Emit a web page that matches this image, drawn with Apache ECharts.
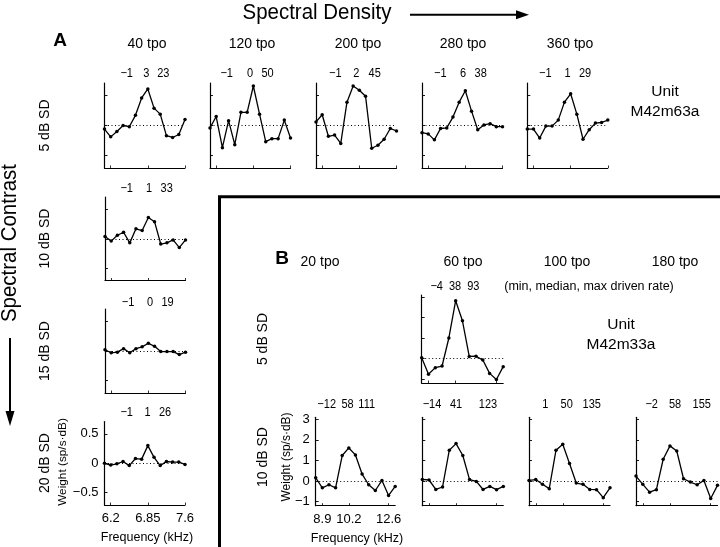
<!DOCTYPE html>
<html><head><meta charset="utf-8">
<script src="https://cdn.jsdelivr.net/npm/echarts@6/dist/echarts.min.js"></script>
<style>html,body{margin:0;padding:0;background:#fff}#c{width:720px;height:547px}</style>
</head><body><div id="c"></div>
<script>
// ---------- DATA ----------
// Frequency categories (kHz), panel A (1/40 oct steps) and panel B (1/20 oct steps)
const freqA = [6.067, 6.173, 6.281, 6.391, 6.503, 6.616, 6.732, 6.85, 6.970, 7.092, 7.216, 7.342, 7.470, 7.601];
const freqB = [8.577, 8.880, 9.193, 9.517, 9.852, 10.2, 10.560, 10.932, 11.318, 11.717, 12.130, 12.557, 13.001];
const xTickIdxA = [1, 7, 13];
const xTickTextA = ['6.2', '6.85', '7.6'];
const xTickIdxB = [1, 5, 11];
const xTickTextB = ['8.9', '10.2', '12.6'];
const yTickValA = [-0.5, 0, 0.5];
const yTickTextA = ['−0.5', '0', '0.5'];
const yTickValB = [-1, 0, 1, 2, 3];
const yTickTextB = ['−1', '0', '1', '2', '3'];

// Panel A weights (sp/s·dB), unit M42m63a
const a5_40  = [-0.06, -0.19, -0.10, 0.00, -0.02, 0.17, 0.46, 0.61, 0.29, 0.19, -0.17, -0.20, -0.15, 0.10];
const a5_120 = [-0.04, 0.15, -0.37, 0.08, -0.32, 0.22, 0.22, 0.66, 0.19, -0.27, -0.22, -0.22, 0.09, -0.21];
const a5_200 = [0.06, 0.18, -0.18, -0.16, -0.30, 0.39, 0.66, 0.59, 0.49, -0.38, -0.33, -0.23, -0.05, -0.09];
const a5_280 = [-0.12, -0.14, -0.24, -0.05, -0.04, 0.14, 0.39, 0.58, 0.24, -0.07, 0.01, 0.03, -0.02, -0.02];
const a5_360 = [-0.06, -0.06, -0.21, -0.01, -0.01, 0.09, 0.39, 0.53, 0.19, -0.23, -0.07, 0.04, 0.05, 0.09];
const a10_40 = [0.04, -0.04, 0.06, 0.11, -0.07, 0.17, 0.14, 0.36, 0.29, -0.09, -0.07, -0.02, -0.15, -0.02];
const a15_40 = [0.02, -0.03, -0.02, 0.04, -0.03, 0.04, 0.07, 0.13, 0.08, -0.01, -0.01, -0.01, -0.06, -0.02];
const a20_40 = [0.00, -0.03, -0.01, 0.03, -0.04, 0.08, 0.07, 0.30, 0.10, -0.04, 0.03, 0.02, 0.02, -0.02];

// Panel B weights, unit M42m33a
const b5_60   = [0.03, -0.77, -0.45, -0.37, 1.00, 2.82, 1.84, 0.10, 0.11, -0.08, -0.73, -1.03, -0.40];
const b10_20  = [0.16, -0.33, -0.18, -0.33, 1.24, 1.61, 1.27, 0.34, -0.18, -0.46, 0.03, -0.70, -0.26];
const b10_60  = [0.08, 0.05, -0.41, -0.29, 1.50, 1.82, 1.24, 0.07, -0.02, -0.41, -0.26, -0.42, -0.26];
const b10_100 = [0.03, 0.07, -0.16, -0.37, 1.50, 1.79, 0.85, -0.10, -0.16, -0.41, -0.42, -0.81, -0.33];
const b10_180 = [0.24, -0.16, -0.54, -0.42, 1.06, 1.71, 1.46, 0.11, -0.05, -0.18, 0.03, -0.85, -0.21];

// Text labels
const colHeadA = ['40 tpo', '120 tpo', '200 tpo', '280 tpo', '360 tpo'];
const rowHeadA = ['5 dB SD', '10 dB SD', '15 dB SD', '20 dB SD'];
const colHeadB = ['20 tpo', '60 tpo', '100 tpo', '180 tpo'];
const rowHeadB = ['5 dB SD', '10 dB SD'];
const ratesA = [['−1','3','23'], ['−1','0','50'], ['−1','2','45'], ['−1','6','38'], ['−1','1','29'],
                ['−1','1','33'], ['−1','0','19'], ['−1','1','26']];
const ratesB = [['−4','38','93'], ['−12','58','111'], ['−14','41','123'], ['1','50','135'], ['−2','58','155']];

// ---------- LAYOUT ----------
const FONT = '"Liberation Sans", Arial, Helvetica, sans-serif';
const panels = [
  {d: a5_40,  s: 'A', l: 104.5, t: 83,  w: 80.5, h: 85},
  {d: a5_120, s: 'A', l: 210,   t: 83,  w: 80.5, h: 85},
  {d: a5_200, s: 'A', l: 316,   t: 83,  w: 80.5, h: 85},
  {d: a5_280, s: 'A', l: 422,   t: 83,  w: 80.5, h: 85},
  {d: a5_360, s: 'A', l: 527.3, t: 83,  w: 80.5, h: 85},
  {d: a10_40, s: 'A', l: 105,   t: 197, w: 80.5, h: 83.5},
  {d: a15_40, s: 'A', l: 105,   t: 309, w: 80.5, h: 84},
  {d: a20_40, s: 'A', l: 104.5, t: 421.5, w: 80.5, h: 83.5, lab: true},
  {d: b5_60,   s: 'B', l: 421.7, t: 295,   w: 81.5, h: 88},
  {d: b10_20,  s: 'B', l: 315.7, t: 417.3, w: 79.5, h: 88.4, lab: true},
  {d: b10_60,  s: 'B', l: 422.3, t: 417.3, w: 81,   h: 88.4},
  {d: b10_100, s: 'B', l: 529,   t: 417.3, w: 81,   h: 88.4},
  {d: b10_180, s: 'B', l: 636,   t: 417.3, w: 81.5, h: 88.4}
];
const rateXA = [[126.7,146.3,163.3],[226.7,250,267.5],[335.3,356.3,374.7],[440.3,463,480.7],[545.3,567.5,585],
                [126.7,149,166.7],[128,150,167.5],[126.7,147.5,165]];
const rateYA = [74,74,74,74,74,189,302.5,412.7];
const rateXB = [[436.7,455,473.3],[326.7,347.5,366.7],[432,456,488],[545.3,566.7,591.7],[651.7,675,701.7]];
const rateYB = [287,405,405,405,405];

// ---------- BUILD ----------
const grids = [], xAxes = [], yAxes = [], series = [];
panels.forEach((p, i) => {
  const A = p.s === 'A';
  const cats = A ? freqA : freqB;
  const tIdx = A ? xTickIdxA : xTickIdxB;
  const tTxt = A ? xTickTextA : xTickTextB;
  const yVals = A ? yTickValA : yTickValB;
  const yTxt = A ? yTickTextA : yTickTextB;
  grids.push({left: p.l, top: p.t, width: p.w, height: p.h, containLabel: false, outerBoundsMode: 'none'});
  xAxes.push({
    gridIndex: i, type: 'category', boundaryGap: false, data: cats.map(String),
    axisLine: {show: true, onZero: false, lineStyle: {color: '#000', width: 1.2}},
    axisTick: {show: true, inside: true, length: 2.5, interval: (idx) => tIdx.includes(idx), lineStyle: {color: '#000', width: 0.8}},
    axisLabel: {show: !!p.lab, interval: (idx) => tIdx.includes(idx),
      formatter: (v, idx) => { const k = tIdx.indexOf(idx); return k >= 0 ? tTxt[k] : ''; },
      color: '#000', fontSize: 13, fontFamily: FONT, margin: 7},
    splitLine: {show: false}
  });
  yAxes.push({
    gridIndex: i, type: 'value', min: A ? -0.71 : -1.2, max: A ? 0.71 : 3.1, splitNumber: A ? 3 : 4,
    axisLine: {show: true, onZero: false, lineStyle: {color: '#000', width: 1.2}},
    axisTick: {show: true, inside: true, length: 3, customValues: yVals, lineStyle: {color: '#000', width: 0.9}},
    axisLabel: {show: !!p.lab, customValues: yVals, color: '#000', fontSize: 13, fontFamily: FONT, margin: 6,
      formatter: (v) => { const k = yVals.findIndex(t => Math.abs(t - v) < 1e-6); return k >= 0 ? yTxt[k] : ''; }},
    splitLine: {show: false}
  });
  series.push({
    type: 'line', xAxisIndex: i, yAxisIndex: i, data: p.d,
    symbol: 'circle', symbolSize: 3.5, showSymbol: true, showAllSymbol: true,
    lineStyle: {color: '#000', width: 1.3}, itemStyle: {color: '#000'},
    emphasis: {disabled: true}, z: 3,
    markLine: {silent: true, symbol: 'none', label: {show: false}, animation: false,
      lineStyle: {color: '#000', type: [1, 2.5], width: 1}, data: [{yAxis: 0}]}
  });
});

function txt(text, x, y, size, o) {
  o = o || {};
  return {type: 'text', x: x, y: y, rotation: o.rot || 0, scaleX: o.sx || 1, silent: true, z: 10,
    style: {text: text, fill: '#000', fontSize: size, fontFamily: FONT, fontWeight: o.bold ? 'bold' : 'normal',
      align: o.align || 'center', verticalAlign: 'middle'}};
}
const R = Math.PI / 2;
const g = [];
// titles and arrows
g.push(txt('Spectral Density', 317, 13, 22, {sx: 0.93}));
g.push({type: 'line', silent: true, shape: {x1: 410, y1: 14.8, x2: 520, y2: 14.8}, style: {stroke: '#000', lineWidth: 2}});
g.push({type: 'polygon', silent: true, shape: {points: [[516, 10.3], [529, 14.8], [516, 19.3]]}, style: {fill: '#000'}});
g.push(txt('Spectral Contrast', 10, 243, 22, {rot: R, sx: 0.93}));
g.push({type: 'line', silent: true, shape: {x1: 10, y1: 338, x2: 10, y2: 415}, style: {stroke: '#000', lineWidth: 2}});
g.push({type: 'polygon', silent: true, shape: {points: [[5.5, 411], [10, 426], [14.5, 411]]}, style: {fill: '#000'}});
// panel letters
g.push(txt('A', 60, 41, 19, {bold: true}));
g.push(txt('B', 282, 259, 19, {bold: true}));
// separator L
g.push({type: 'polyline', silent: true, shape: {points: [[219.5, 547], [219.5, 196.7], [720, 196.7]]}, style: {stroke: '#000', lineWidth: 3, fill: null}});
// column headers A
[147, 252, 358, 463, 570].forEach((x, k) => g.push(txt(colHeadA[k], x, 44, 14)));
// row headers A
[125.5, 238.5, 351, 463].forEach((y, k) => g.push(txt(rowHeadA[k], 45, y, 14, {rot: R})));
// column headers B
[320, 463, 567, 675].forEach((x, k) => g.push(txt(colHeadB[k], x, 262, 14)));
// row headers B
[339, 457].forEach((y, k) => g.push(txt(rowHeadB[k], 263, y, 14, {rot: R})));
// rate numbers
ratesA.forEach((r, k) => r.forEach((s, j) => g.push(txt(s, rateXA[k][j], rateYA[k], 12.5, {sx: 0.88}))));
ratesB.forEach((r, k) => r.forEach((s, j) => g.push(txt(s, rateXB[k][j], rateYB[k], 12.5, {sx: 0.88}))));
g.push(txt('(min, median, max driven rate)', 589, 287, 12.5));
// unit labels
g.push(txt('Unit', 665, 92, 15.5));
g.push(txt('M42m63a', 665, 112, 15.5));
g.push(txt('Unit', 621, 325, 15.5));
g.push(txt('M42m33a', 621, 345, 15.5));
// axis titles
g.push(txt('Frequency (kHz)', 147, 538, 12.5));
g.push(txt('Frequency (kHz)', 357, 539, 12.5));
g.push(txt('Weight (sp/s·dB)', 63, 462, 11.8, {rot: R}));
g.push(txt('Weight (sp/s·dB)', 287, 457, 12, {rot: R}));

const chart = echarts.init(document.getElementById('c'), null, {renderer: 'canvas'});
chart.setOption({
  animation: false, backgroundColor: '#fff',
  grid: grids, xAxis: xAxes, yAxis: yAxes, series: series, graphic: g
});
</script></body></html>
